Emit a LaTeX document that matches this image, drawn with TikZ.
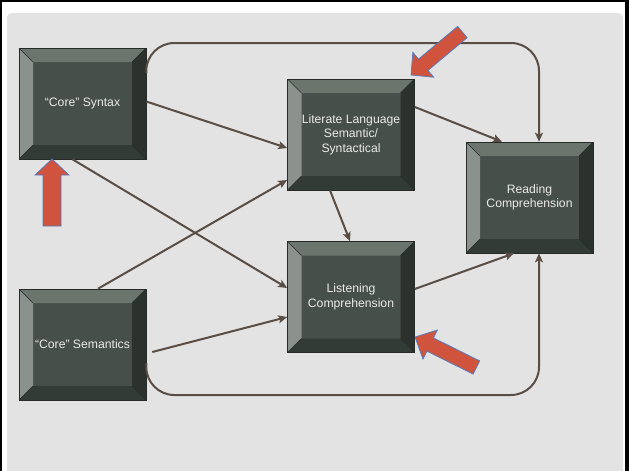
\documentclass[tikz,border=0pt]{standalone}
\usepackage{fontspec}
\setmainfont{Liberation Sans}
\usetikzlibrary{arrows.meta,calc}

\definecolor{panel}{HTML}{E3E3E3}
\definecolor{facecol}{HTML}{474F4A}
\definecolor{bevtop}{HTML}{6B756E}
\definecolor{bevleft}{HTML}{8B928D}
\definecolor{bevright}{HTML}{2B312D}
\definecolor{bevbottom}{HTML}{333B36}
\definecolor{edgecol}{HTML}{262B28}
\definecolor{labelcol}{HTML}{EAEAEA}
\definecolor{flowcol}{HTML}{5A4D43}
\definecolor{hintfill}{HTML}{D0533E}
\definecolor{hintedge}{HTML}{4D7FC4}

\tikzset{
  bevbox/.style={
    draw=edgecol, line width=0.6pt, fill=facecol, inner sep=0pt,
    minimum width=127pt, minimum height=111pt,
    text=labelcol, align=center,
    font=\fontsize{12.2}{14.6}\selectfont,
    path picture={
      \fill[bevtop] (path picture bounding box.north west) -- (path picture bounding box.north east)
        -- ([shift={(-14pt,-14pt)}]path picture bounding box.north east)
        -- ([shift={(14pt,-14pt)}]path picture bounding box.north west) -- cycle;
      \fill[bevleft] (path picture bounding box.north west) -- (path picture bounding box.south west)
        -- ([shift={(14pt,14pt)}]path picture bounding box.south west)
        -- ([shift={(14pt,-14pt)}]path picture bounding box.north west) -- cycle;
      \fill[bevright] (path picture bounding box.north east) -- (path picture bounding box.south east)
        -- ([shift={(-14pt,14pt)}]path picture bounding box.south east)
        -- ([shift={(-14pt,-14pt)}]path picture bounding box.north east) -- cycle;
      \fill[bevbottom] (path picture bounding box.south west) -- (path picture bounding box.south east)
        -- ([shift={(-14pt,14pt)}]path picture bounding box.south east)
        -- ([shift={(14pt,14pt)}]path picture bounding box.south west) -- cycle;
      \draw[edgecol, line width=0.5pt]
        (path picture bounding box.north west) -- ([shift={(14pt,-14pt)}]path picture bounding box.north west)
        (path picture bounding box.north east) -- ([shift={(-14pt,-14pt)}]path picture bounding box.north east)
        (path picture bounding box.south west) -- ([shift={(14pt,14pt)}]path picture bounding box.south west)
        (path picture bounding box.south east) -- ([shift={(-14pt,14pt)}]path picture bounding box.south east);
    }},
  flow/.style={draw=flowcol, line width=2pt, -{Stealth[length=9pt,width=8pt,inset=2pt]}},
  hint/.style={fill=hintfill, draw=hintedge, line width=0.7pt, line join=miter}
}

% block arrow: #1 tip coordinate, #2 heading angle, #3 total length,
% #4 head length, #5 head half-width, #6 shaft half-width
\newcommand\blockarrow[6]{%
  \begin{scope}[shift={(#1)}, rotate=#2]
    \path[hint] (0,0) -- (-#4pt,#5pt) -- (-#4pt,#6pt) -- (-#3pt,#6pt)
      -- (-#3pt,-#6pt) -- (-#4pt,-#6pt) -- (-#4pt,-#5pt) -- cycle;
  \end{scope}}

\begin{document}
\begin{tikzpicture}[x=1pt,y=-1pt]
  \useasboundingbox (0,0) rectangle (629,471);
  % page frame and backdrop
  \fill[white] (0,0) rectangle (629,471);
  \fill[panel, rounded corners=5pt] (7,13) rectangle (623,480);
  \fill[black] (0,0) rectangle (629,2.3);
  \fill[black] (0,0) rectangle (2.3,471);
  \fill[black] (625,0) rectangle (629,471);

  % boxes
  \node[bevbox] (syn) at (82.5,103.5) {\textquotedblleft Core\textquotedblright\ Syntax};
  \node[bevbox] (sem) at (82.5,344.5) {\textquotedblleft Core\textquotedblright\ Semantics};
  \node[bevbox] (lit) at (351,134.5) {Literate Language\\Semantic/\\Syntactical};
  \node[bevbox] (lis) at (351,297) {Listening\\Comprehension};
  \node[bevbox] (rea) at (529.5,197.5) {Reading\\Comprehension};

  % straight influences
  \draw[flow] ([yshift=2pt]syn.east) -- ([yshift=-13.5pt]lit.west);
  \draw[flow] ([xshift=-10pt]syn.south) -- ([yshift=9pt]lis.west);
  \draw[flow] ([xshift=15.5pt]sem.north) -- ([yshift=-45.5pt]lit.west);
  \draw[flow] ([shift={(6pt,-7.5pt)}]sem.east) -- ([yshift=-20pt]lis.west);
  \draw[flow] ([yshift=27.5pt]lit.east) -- ([xshift=-27.5pt]rea.north);
  \draw[flow] ([xshift=-21pt]lit.south) -- ([xshift=-1pt]lis.north);
  \draw[flow] ([yshift=8pt]lis.east) -- ([xshift=-15.5pt]rea.south);

  % outer loops into reading comprehension
  \coordinate (toprail) at (0,43);
  \coordinate (botrail) at (0,395);
  \coordinate (t0) at ([yshift=30.5pt]syn.east);
  \coordinate (t1) at ([xshift=9.5pt]rea.north);
  \coordinate (b0) at ([yshift=-18.5pt]sem.east);
  \coordinate (b1) at ([xshift=9.5pt]rea.south);
  \draw[flow, rounded corners=28pt] (t0) |- (toprail -| t1) -- (t1);
  \draw[flow, rounded corners=28pt] (b0) |- (botrail -| b1) -- (b1);

  % highlight arrows
  \coordinate (h1) at (52,159);
  \coordinate (h2) at (411,75);
  \coordinate (h3) at (415,337);
  \blockarrow{h1}{90}{67}{16}{17}{9}
  \blockarrow{h2}{219.9}{67}{16}{16.3}{7.4}
  \blockarrow{h3}{153.6}{68.6}{17}{16.3}{7.4}
\end{tikzpicture}
\end{document}
